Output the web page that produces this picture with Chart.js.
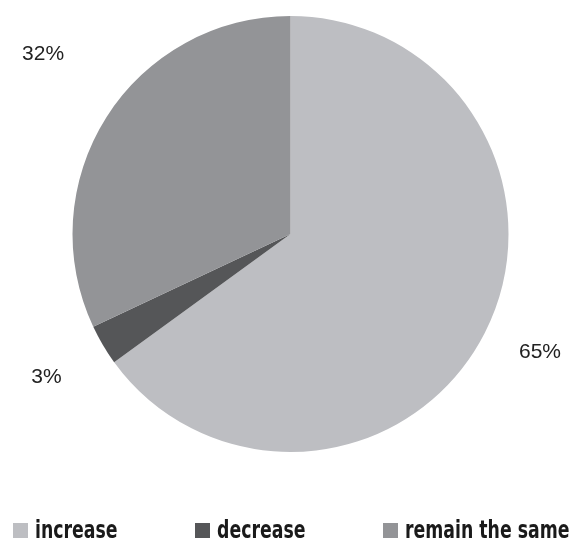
<!DOCTYPE html>
<html>
<head>
<meta charset="utf-8">
<script src="https://cdn.jsdelivr.net/npm/chart.js@4"></script>
<style>
  html, body { margin: 0; padding: 0; background: #ffffff; }
  #wrap { width: 571px; height: 540px; }
</style>
</head>
<body>
<div id="wrap"><canvas id="c" width="571" height="540"></canvas></div>
<script>
const categories = ['increase', 'decrease', 'remain the same'];
const shares = [65, 3, 32];
const sliceColors = ['#bdbec2', '#555658', '#939497'];

const labelFont = '21px "Liberation Sans", Arial, sans-serif';
const legendFont = 'bold 25px "Liberation Sans Narrow", "DejaVu Sans Condensed", sans-serif';

// percentage labels outside each slice, with a small nudge per slice
const labelNudge = [[0, -9], [-3, 1], [-11, -30]];
const outsideLabels = {
  id: 'outsideLabels',
  afterDatasetsDraw(chart) {
    const ctx = chart.ctx;
    const meta = chart.getDatasetMeta(0);
    ctx.save();
    ctx.font = labelFont;
    ctx.fillStyle = '#222222';
    ctx.textAlign = 'center';
    ctx.textBaseline = 'middle';
    meta.data.forEach((arc, i) => {
      const p = arc.getProps(['x', 'y', 'startAngle', 'endAngle', 'outerRadius'], true);
      const mid = (p.startAngle + p.endAngle) / 2;
      const d = p.outerRadius + 62;
      const x = p.x + Math.cos(mid) * d + labelNudge[i][0];
      const y = p.y + Math.sin(mid) * d + labelNudge[i][1];
      ctx.fillText(shares[i] + '%', x, y);
    });
    ctx.restore();
  }
};

// legend row under the pie, condensed bold text
const legendRow = {
  id: 'legendRow',
  afterDraw(chart) {
    const ctx = chart.ctx;
    const cols = [13, 195, 383];
    const boxTop = 523, box = 15;
    const squeeze = 0.77;
    ctx.save();
    ctx.font = legendFont;
    ctx.textBaseline = 'alphabetic';
    ctx.textAlign = 'left';
    categories.forEach((name, i) => {
      ctx.fillStyle = sliceColors[i];
      ctx.fillRect(cols[i], boxTop, box, box);
      ctx.save();
      ctx.translate(cols[i] + box + 7, boxTop + box);
      ctx.scale(squeeze, 1);
      ctx.fillStyle = '#1a1a1a';
      ctx.fillText(name, 0, 0);
      ctx.restore();
    });
    ctx.restore();
  }
};

new Chart(document.getElementById('c'), {
  type: 'pie',
  data: {
    labels: categories,
    datasets: [{
      data: shares,
      backgroundColor: sliceColors,
      borderWidth: 0
    }]
  },
  options: {
    responsive: false,
    animation: false,
    layout: { padding: { top: 16, bottom: 88, left: 72, right: 62 } },
    plugins: {
      legend: { display: false },
      tooltip: { enabled: false }
    }
  },
  plugins: [outsideLabels, legendRow]
});
</script>
</body>
</html>
